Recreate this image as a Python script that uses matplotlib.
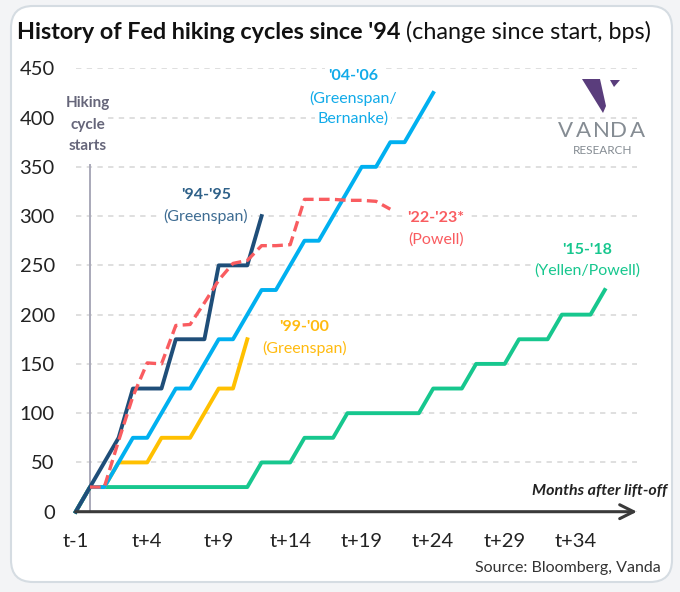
import matplotlib.pyplot as plt
import numpy as np
from matplotlib.patches import FancyBboxPatch, Polygon
from matplotlib.transforms import IdentityTransform

plt.rcParams['font.family'] = ['Lato', 'DejaVu Sans']

# months after lift-off, index 0 = t-1
tick_labels = ['t-1', 't+4', 't+9', 't+14', 't+19', 't+24', 't+29', 't+34']

# change since start (bps), one value per month from t-1
cycle_94_95 = [0, 25, 50, 75, 125, 125, 125, 175, 175, 175, 250, 250, 250, 300]
cycle_99_00 = [0, 25, 25, 50, 50, 50, 75, 75, 75, 100, 125, 125, 175]
cycle_04_06 = [0, 25, 25, 50, 75, 75, 100, 125, 125, 150, 175, 175, 200, 225,
               225, 250, 275, 275, 300, 325, 350, 350, 375, 375, 400, 425]
cycle_15_18 = [0, 25, 25, 25, 25, 25, 25, 25, 25, 25, 25, 25, 25, 50, 50, 50,
               75, 75, 75, 100, 100, 100, 100, 100, 100, 125, 125, 125,
               150, 150, 150, 175, 175, 175, 200, 200, 200, 225]
cycle_22_23 = [np.nan, 25, 25, 72, 117, 151, 150, 189, 190, 212, 235, 252, 255,
               270, 270, 271, 317, 317, 317, 316, 316, 315, 307]

W, H = 680, 592
fig = plt.figure(figsize=(W / 100, H / 100), dpi=100, facecolor='#f3f4f6')


def px(x, y):
    # picture pixels (from top-left) -> figure fraction
    return x / W, 1 - y / H


card = FancyBboxPatch((11, 10), 661, 576, boxstyle='round,pad=0,rounding_size=22',
                      transform=IdentityTransform(), facecolor='white',
                      edgecolor='#d5dce2', lw=1.5, zorder=0)
fig.add_artist(card)

x0, x1 = 75.7, 637
y0, ytop = 511.7, 68.3
month_px = 14.3
ax = fig.add_axes([x0 / W, 1 - y0 / H, (x1 - x0) / W, (y0 - ytop) / H])
ax.set_xlim(0, (x1 - x0) / month_px)
ax.set_ylim(0, 450)
ax.patch.set_alpha(0)
for s in ax.spines.values():
    s.set_visible(False)

ax.set_yticks(np.arange(0, 451, 50))
ax.set_xticks(np.arange(len(tick_labels)) * 5)
ax.set_xticklabels(tick_labels)
ax.tick_params(length=0, labelsize=14.5, colors='#222222')
ax.tick_params(axis='x', pad=15)
ax.tick_params(axis='y', pad=15)
ax.set_axisbelow(True)
ax.grid(axis='y', color='#d6d6d6', lw=1.1, ls=(0, (3.5, 3.5)))
ax.grid(axis='x', visible=False)

# x axis arrow
ax.annotate('', xy=((x1 - x0) / month_px, 0), xytext=(0, 0),
            arrowprops=dict(arrowstyle='->,head_length=1.0,head_width=0.5',
                            color='#3a3a3a', lw=2.2, shrinkA=0, shrinkB=0,
                            mutation_scale=10),
            annotation_clip=False, zorder=3)

# lift-off marker
ax.plot([1, 1], [0, 352], color='#a9a9b9', lw=1.4, zorder=1.2)

lw = 2.8
ax.plot(np.arange(len(cycle_15_18)), cycle_15_18, color='#17c78e', lw=lw, zorder=2, clip_on=False)
ax.plot(np.arange(len(cycle_99_00)), cycle_99_00, color='#ffc000', lw=lw, zorder=2.1, clip_on=False)
ax.plot(np.arange(len(cycle_04_06)), cycle_04_06, color='#00b0f0', lw=lw, zorder=2.2, clip_on=False)
ax.plot(np.arange(len(cycle_94_95)), cycle_94_95, color='#1f4e79', lw=lw, zorder=2.3, clip_on=False)
ax.plot(np.arange(len(cycle_22_23)), cycle_22_23, color='#f95c60', lw=2.4,
        ls=(0, (3.2, 1.6)), zorder=2.4, clip_on=False)

box = dict(facecolor='white', edgecolor='none', pad=2)


def label(x, y, s, color, bold=False, size=11.5, **kw):
    ax.text(*px(x, y), s, transform=fig.transFigure, color=color, fontsize=size,
            fontweight='bold' if bold else 'normal', ha='center', va='center',
            bbox=box, zorder=1, clip_on=False, **kw)


label(88, 103, 'Hiking', '#66667a', bold=True, size=11)
label(88, 125, 'cycle', '#66667a', bold=True, size=11)
label(88, 146, 'starts', '#66667a', bold=True, size=11)

label(206, 195, "'94-'95", '#2f6189', bold=True)
label(206, 216, '(Greenspan)', '#3f6d93')
label(353, 76, "'04-'06", '#12abe9', bold=True)
label(353, 98, '(Greenspan/', '#12abe9')
label(353, 119, 'Bernanke)', '#12abe9')
label(304, 327, "'99-'00", '#ffbb10', bold=True)
label(305, 348, '(Greenspan)', '#ffbb10')
label(436, 218, "'22-'23*", '#f95c60', bold=True)
label(436, 240, '(Powell)', '#f95c60')
label(587, 250, "'15-'18", '#17c78e', bold=True)
label(587, 271, '(Yellen/Powell)', '#17c78e')

# title
t1 = fig.text(*px(17, 39), "History of Fed hiking cycles since '94", fontsize=16.8,
              fontweight='bold', color='#111111', ha='left', va='baseline')
fig.canvas.draw()
bb = t1.get_window_extent(fig.canvas.get_renderer())
fig.text((bb.x1 + 5) / W, 1 - 39 / H, '(change since start, bps)', fontsize=16.8,
         color='#111111', ha='left', va='baseline')

fig.text(*px(667, 495), 'Months after lift-off', fontsize=11.5, fontweight='bold',
         fontstyle='italic', color='#222222', ha='right', va='baseline')
fig.text(*px(661, 572), 'Source: Bloomberg, Vanda', fontsize=11.5, color='#333333',
         ha='right', va='baseline')

# Vanda logo
mark = [px(582, 79), px(600, 79), px(606, 106), px(603, 113)]
fig.add_artist(Polygon(mark, closed=True, transform=fig.transFigure,
                       facecolor='#5a3d7c', edgecolor='none'))
tip = [px(610, 80), px(620, 80), px(614, 87)]
fig.add_artist(Polygon(tip, closed=True, transform=fig.transFigure,
                       facecolor='#5a3d7c', edgecolor='none'))
for ch, cx in zip('VANDA', [566, 583, 601, 618, 637]):
    fig.text(*px(cx, 131), ch, fontsize=16, color='#858c93',
             ha='center', va='center')
fig.text(*px(603, 150), 'RESEARCH', fontsize=8.5, color='#858c93', ha='center',
         va='center')

fig.savefig('out.png', dpi=100, facecolor=fig.get_facecolor())
